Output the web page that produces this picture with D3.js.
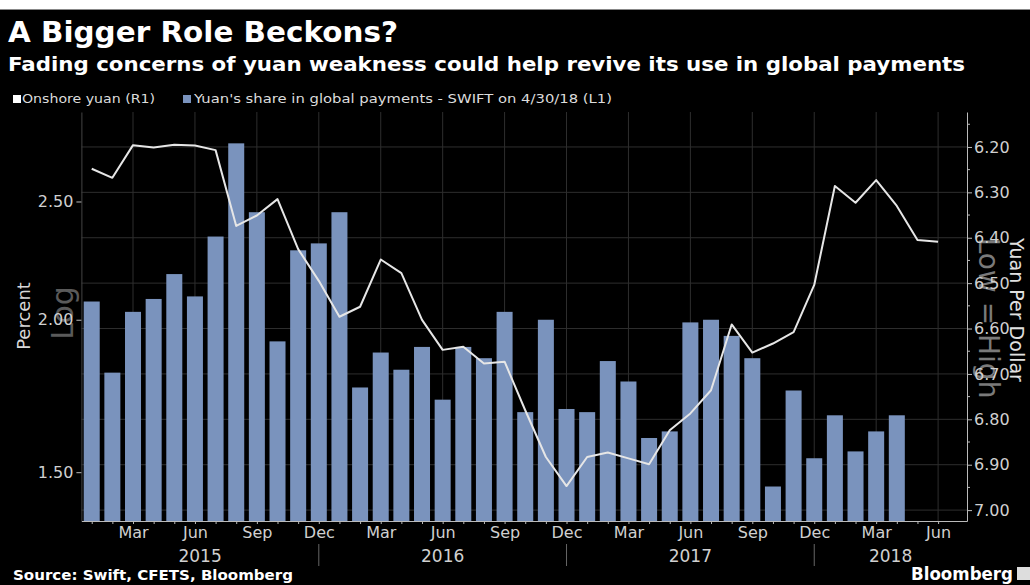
<!DOCTYPE html>
<html>
<head>
<meta charset="utf-8">
<script src="https://cdn.jsdelivr.net/npm/d3@7"></script>
<style>
  body { margin: 0; background: #000; }
  svg { display: block; }
  text { font-family: "DejaVu Sans", sans-serif; }
</style>
</head>
<body>
<div class="chart-container"></div>
<script>
// monthly categories, Jan 2015 - Jun 2018
const months = [
    "2015-01","2015-02","2015-03","2015-04","2015-05","2015-06","2015-07","2015-08","2015-09","2015-10","2015-11","2015-12",
    "2016-01","2016-02","2016-03","2016-04","2016-05","2016-06","2016-07","2016-08","2016-09","2016-10","2016-11","2016-12",
    "2017-01","2017-02","2017-03","2017-04","2017-05","2017-06","2017-07","2017-08","2017-09","2017-10","2017-11","2017-12",
    "2018-01","2018-02","2018-03","2018-04","2018-05","2018-06"
];

// Yuan's share in global payments (%), SWIFT, left axis (log)
const shareValues = [
    2.07, 1.81, 2.03, 2.08, 2.18, 2.09, 2.34, 2.79, 2.45, 1.92, 2.28, 2.31,
    2.45, 1.76, 1.88, 1.82, 1.90, 1.72, 1.90, 1.86, 2.03, 1.68, 2.00, 1.69,
    1.68, 1.85, 1.78, 1.60, 1.62, 1.99, 2.00, 1.94, 1.86, 1.46, 1.75, 1.54,
    1.67, 1.56, 1.62, 1.67
];

// Onshore yuan per dollar, right axis (inverted)
const yuanValues = [
    6.248, 6.268, 6.196, 6.201, 6.195, 6.197, 6.207, 6.374, 6.351, 6.315, 6.425, 6.495,
    6.574, 6.552, 6.448, 6.478, 6.581, 6.647, 6.640, 6.677, 6.673, 6.780, 6.883, 6.947,
    6.883, 6.873, 6.886, 6.899, 6.824, 6.787, 6.736, 6.591, 6.653, 6.633, 6.608, 6.504,
    6.286, 6.323, 6.273, 6.330, 6.405, 6.409
];

const leftTicks = [1.50, 2.00, 2.50];
const rightTicks = [6.20, 6.30, 6.40, 6.50, 6.60, 6.70, 6.80, 6.90, 7.00];
const rightMinorTicks = [6.15, 6.25, 6.35, 6.45, 6.55, 6.65, 6.75, 6.85, 6.95];
const quarterMonths = ["Mar", "Jun", "Sep", "Dec"];
const years = ["2015", "2016", "2017", "2018"];

const parseMonth = d3.timeParse("%Y-%m");
const fmtMonth = d3.timeFormat("%b");

const W = 1030, H = 585;
const plot = { left: 81.4, right: 967, top: 112, bottom: 521 };

const svg = d3.select(".chart-container").append("svg")
    .attr("width", W)
    .attr("height", H);

svg.append("rect").attr("width", W).attr("height", H).attr("fill", "#000");
svg.append("rect").attr("width", W).attr("height", 9).attr("fill", "#fff");
svg.append("line").attr("x1", 0).attr("x2", W).attr("y1", 9.5).attr("y2", 9.5)
    .attr("stroke", "#888");

// month index scale; month i spans [i, i+1]
const x = d3.scaleLinear()
    .domain([0, 42.9])
    .range([plot.left, plot.right]);

const yL = d3.scaleLog()
    .domain([1.368, 2.96])
    .range([plot.bottom, plot.top]);

const yR = d3.scaleLinear()
    .domain([6.123, 7.024])
    .range([plot.top, plot.bottom]);

const dates = months.map(parseMonth);
const mid = i => x(i + 0.5);

// grid
svg.append("g").selectAll("line")
    .data(rightTicks)
    .join("line")
    .attr("x1", plot.left).attr("x2", plot.right)
    .attr("y1", d => yR(d)).attr("y2", d => yR(d))
    .attr("stroke", "#2e2e2e").attr("stroke-width", 1);

const quarterIdx = dates.map((d, i) => i).filter(i => quarterMonths.includes(fmtMonth(dates[i])));

svg.append("g").selectAll("line")
    .data(quarterIdx)
    .join("line")
    .attr("x1", d => mid(d)).attr("x2", d => mid(d))
    .attr("y1", plot.top).attr("y2", plot.bottom)
    .attr("stroke", "#2e2e2e").attr("stroke-width", 1);

// bars
const barW = 16;
svg.append("g").selectAll("rect")
    .data(shareValues)
    .join("rect")
    .attr("x", (d, i) => mid(i) - barW / 2)
    .attr("width", barW)
    .attr("y", d => yL(d))
    .attr("height", d => plot.bottom - yL(d))
    .attr("fill", "#7a93bd");

// watermarks
svg.append("text")
    .attr("transform", "translate(73,313) rotate(-90)")
    .attr("text-anchor", "middle")
    .attr("font-size", 30)
    .attr("fill", "#5a5a5a")
    .text("Log");

svg.append("text")
    .attr("transform", "translate(979,318) rotate(90)")
    .attr("text-anchor", "middle")
    .attr("font-size", 28)
    .attr("fill", "#7a7a7a")
    .text("Low = High");

// yuan line
const line = d3.line()
    .x((d, i) => mid(i))
    .y(d => yR(d));

svg.append("path")
    .datum(yuanValues)
    .attr("d", line)
    .attr("fill", "none")
    .attr("stroke", "#e6e6e6")
    .attr("stroke-width", 2)
    .attr("stroke-linejoin", "round");

// axes
function styleAxis(g) {
    g.select(".domain").attr("stroke", "#bbb");
    g.selectAll(".tick line").attr("stroke", "#bbb");
    g.selectAll(".tick text")
        .attr("fill", "#d0d0d0")
        .attr("font-size", 16)
        .attr("font-family", "DejaVu Sans, sans-serif");
}

svg.append("g")
    .attr("transform", "translate(" + plot.left + ",0)")
    .call(d3.axisLeft(yL).tickValues(leftTicks).tickFormat(d3.format(".2f")).tickSize(5).tickPadding(3).tickSizeOuter(0))
    .call(styleAxis)
    .call(g => g.select(".domain").attr("stroke", "#444"));

svg.append("g")
    .attr("transform", "translate(" + plot.right + ",0)")
    .call(d3.axisRight(yR).tickValues(rightTicks).tickFormat(d3.format(".2f")).tickSize(5).tickPadding(2).tickSizeOuter(0))
    .call(styleAxis);

svg.append("g").selectAll("line")
    .data(rightMinorTicks)
    .join("line")
    .attr("x1", plot.right).attr("x2", plot.right + 3)
    .attr("y1", d => yR(d)).attr("y2", d => yR(d))
    .attr("stroke", "#bbb");

svg.append("g")
    .attr("transform", "translate(0," + plot.bottom + ")")
    .call(d3.axisBottom(x)
        .tickValues(dates.map((d, i) => i + 0.5))
        .tickSize(3).tickPadding(3).tickSizeOuter(0)
        .tickFormat(v => {
            const m = fmtMonth(dates[Math.floor(v)]);
            return quarterMonths.includes(m) ? m : "";
        }))
    .call(styleAxis);

// year separators and labels
const decIdx = quarterIdx.filter(i => fmtMonth(dates[i]) === "Dec");
svg.append("g").selectAll("line")
    .data(decIdx)
    .join("line")
    .attr("x1", d => mid(d)).attr("x2", d => mid(d))
    .attr("y1", 544).attr("y2", 566)
    .attr("stroke", "#666");

const bounds = [plot.left].concat(decIdx.map(mid)).concat([plot.right]);
svg.append("g").selectAll("text")
    .data(years)
    .join("text")
    .attr("x", (d, i) => (bounds[i] + bounds[i + 1]) / 2)
    .attr("y", 562)
    .attr("text-anchor", "middle")
    .attr("font-size", 17)
    .attr("fill", "#d0d0d0")
    .text(d => d);

// axis titles
svg.append("text")
    .attr("transform", "translate(30,316) rotate(-90)")
    .attr("text-anchor", "middle")
    .attr("font-size", 18)
    .attr("fill", "#d8d8d8")
    .text("Percent");

svg.append("text")
    .attr("transform", "translate(1010,310) rotate(90)")
    .attr("text-anchor", "middle")
    .attr("font-size", 19)
    .attr("fill", "#e0e0e0")
    .text("Yuan Per Dollar");

// titles
svg.append("text")
    .attr("x", 8).attr("y", 42)
    .attr("font-size", 29).attr("font-weight", "bold")
    .attr("fill", "#fff")
    .attr("textLength", 390).attr("lengthAdjust", "spacingAndGlyphs")
    .text("A Bigger Role Beckons?");

svg.append("text")
    .attr("x", 8).attr("y", 71)
    .attr("font-size", 19).attr("font-weight", "bold")
    .attr("fill", "#fff")
    .attr("textLength", 957).attr("lengthAdjust", "spacingAndGlyphs")
    .text("Fading concerns of yuan weakness could help revive its use in global payments");

// legend
const legend = [
    { label: "Onshore yuan (R1)", color: "#ffffff", x: 13, tx: 22, w: 133 },
    { label: "Yuan's share in global payments - SWIFT on 4/30/18 (L1)", color: "#7a93bd", x: 183, tx: 194, w: 418 }
];
const lg = svg.append("g");
lg.selectAll("rect")
    .data(legend)
    .join("rect")
    .attr("x", d => d.x).attr("y", 95)
    .attr("width", 8).attr("height", 8)
    .attr("fill", d => d.color);
lg.selectAll("text")
    .data(legend)
    .join("text")
    .attr("x", d => d.tx).attr("y", 103)
    .attr("font-size", 12)
    .attr("fill", "#dcdcdc")
    .attr("textLength", d => d.w).attr("lengthAdjust", "spacingAndGlyphs")
    .text(d => d.label);

// footer
svg.append("text")
    .attr("x", 13).attr("y", 580)
    .attr("font-size", 14).attr("font-weight", "bold")
    .attr("fill", "#fff")
    .attr("textLength", 280).attr("lengthAdjust", "spacingAndGlyphs")
    .text("Source: Swift, CFETS, Bloomberg");

svg.append("text")
    .attr("x", 911).attr("y", 580)
    .attr("font-size", 17).attr("font-weight", "bold")
    .attr("fill", "#fff")
    .attr("textLength", 102).attr("lengthAdjust", "spacingAndGlyphs")
    .text("Bloomberg");

svg.append("rect")
    .attr("x", 1017).attr("y", 567)
    .attr("width", 13).attr("height", 13)
    .attr("fill", "#ddd");
</script>
</body>
</html>
